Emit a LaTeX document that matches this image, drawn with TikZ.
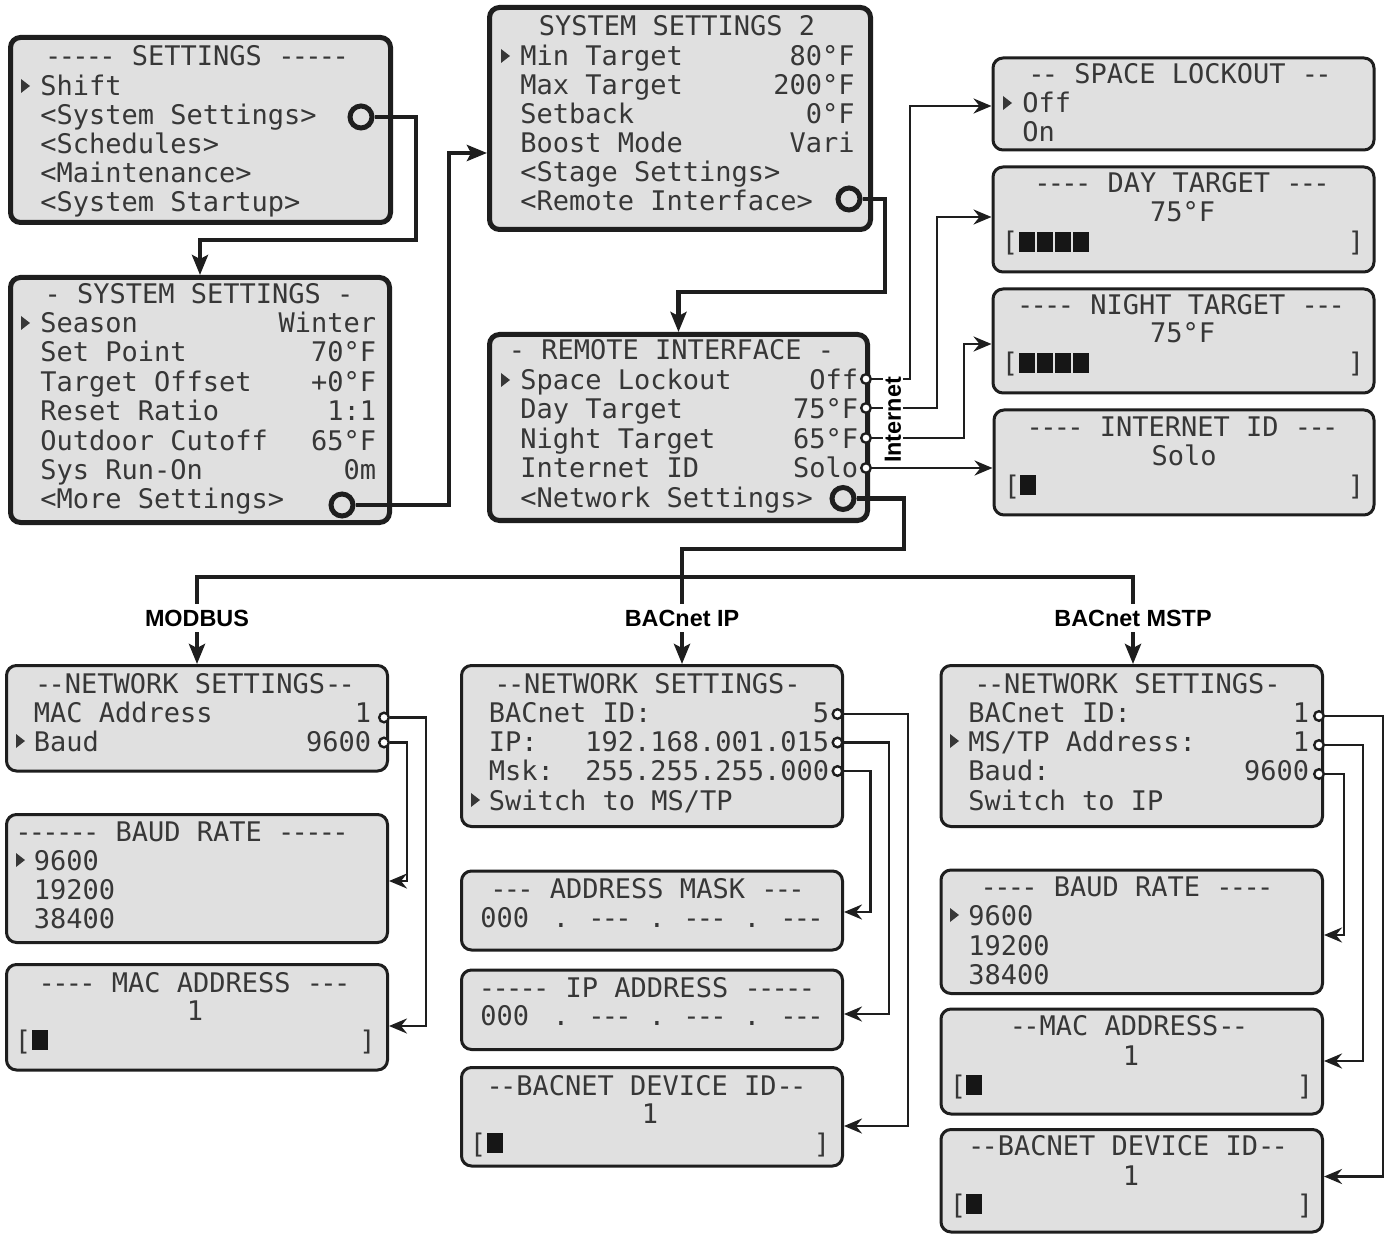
\documentclass[tikz,border=0pt]{standalone}
\usepackage{fontspec}
\setmonofont{DejaVu Sans Mono}
\newfontfamily\lblfam{Liberation Sans}
\usetikzlibrary{arrows.meta}
\definecolor{lcdbg}{RGB}{224,224,224}
\definecolor{lcdtxt}{RGB}{55,55,55}
\definecolor{bordc}{RGB}{30,30,30}
\definecolor{blockc}{RGB}{22,22,22}
\newcommand\lcdfont{\ttfamily\fontsize{13.5}{16}\selectfont}
\newcommand\lblfont{\lblfam\bfseries\fontsize{11.7}{14}\selectfont}
\newcommand\dsh[1]{{\addfontfeature{LetterSpace=-10}#1}}
\newcommand\lcdBox[6]{\node[#2, minimum width={(#5-#3)*0.5pt}, minimum height={(#6-#4)*0.5pt}] (#1) at ({(#3+#5)/2},{(#4+#6)/2}) {};}
\newcommand\lcdL[4]{\node[lcd, anchor=base west] (#1) at (#2,{#3+10}) {#4};}
\newcommand\lcdR[4]{\node[lcd, anchor=base east] (#1) at (#2,{#3+10}) {#4};}
\newcommand\lcdC[4]{\node[lcd, anchor=base] (#1) at (#2,{#3+10}) {#4};}
\newcommand\lcdCur[2]{\fill[lcdtxt] (#1,{#2-7}) -- (#1,{#2+7}) -- ({#1+9},#2) -- cycle;}
\newcommand\lcdBlk[2]{\fill[blockc] (#1,{#2-10}) rectangle ({#1+16},{#2+10});}
\tikzset{
 boxbase/.style={rectangle, rounded corners=5pt, fill=lcdbg, draw=bordc, inner sep=0pt},
 bigbox/.style={boxbase, line width=2.5pt},
 smallbox/.style={boxbase, line width=1.5pt},
 lcd/.style={font=\lcdfont, text=lcdtxt, inner sep=0pt},
 lbl/.style={font=\lblfont, inner sep=2.8pt},
 bigcirc/.style={circle, draw=bordc, line width=2.5pt, fill=lcdbg, minimum size=11pt, inner sep=0pt},
 smallcirc/.style={circle, draw=bordc, line width=1.2pt, fill=white, minimum size=4.8pt, inner sep=0pt},
 thickline/.style={draw=bordc, line width=2.3pt},
 thinline/.style={draw=bordc, line width=1.35pt},
 bigarrow/.style={thickline, -{Stealth[length=10pt,width=8pt,inset=2pt]}},
 thinarrow/.style={thinline, -{Stealth[length=9pt,width=7.5pt,inset=3pt]}},
}
\begin{document}
\begin{tikzpicture}[x=0.5pt,y=-0.5pt]
\fill[white] (0,0) rectangle (1387,1235);
\useasboundingbox (0,0) rectangle (1387,1235);

% ---------- boxes ----------
\lcdBox{A}{bigbox}{10.5}{37.5}{390.5}{222.5}
\lcdBox{B}{bigbox}{10.5}{277.5}{389.5}{522.5}
\lcdBox{C}{bigbox}{489.5}{7.5}{870.5}{229.5}
\lcdBox{D}{bigbox}{489.5}{334.5}{867.5}{520.5}
\lcdBox{E}{smallbox}{993}{58}{1374}{150}
\lcdBox{F}{smallbox}{993}{167}{1374}{272}
\lcdBox{G}{smallbox}{993}{289}{1374}{393}
\lcdBox{H}{smallbox}{994}{410}{1374}{515}
\lcdBox{I}{smallbox}{6.5}{665.5}{387.5}{771}
\lcdBox{J}{smallbox}{6.5}{814.5}{387.5}{942.5}
\lcdBox{K}{smallbox}{6.5}{964.5}{387.5}{1070}
\lcdBox{L}{smallbox}{461.5}{665.5}{842.5}{826.5}
\lcdBox{M}{smallbox}{461.5}{871}{842.5}{950}
\lcdBox{N}{smallbox}{461.5}{970}{842.5}{1049.5}
\lcdBox{O}{smallbox}{461.5}{1067.5}{842.5}{1166}
\lcdBox{P}{smallbox}{941}{665.5}{1322.5}{826.5}
\lcdBox{Q}{smallbox}{941}{870}{1322.5}{993.5}
\lcdBox{R}{smallbox}{941}{1009}{1322.5}{1114}
\lcdBox{S}{smallbox}{941}{1129.5}{1322.5}{1232}

% ---------- A: SETTINGS ----------
\lcdC{a0}{197}{56}{\dsh{-----} SETTINGS \dsh{-----}}
\lcdCur{21}{86}
\lcdL{a1}{40}{86}{Shift}
\lcdL{a2}{40}{115}{<System Settings>}
\lcdL{a3}{40}{144}{<Schedules>}
\lcdL{a4}{40}{173}{<Maintenance>}
\lcdL{a5}{40}{202}{<System Startup>}
\node[bigcirc] (cA) at (361,117) {};

% ---------- B: SYSTEM SETTINGS ----------
\lcdC{b0}{199}{294}{- SYSTEM SETTINGS -}
\lcdCur{21}{323}
\lcdL{b1}{40}{323}{Season}\lcdR{b1v}{376.5}{323}{Winter}
\lcdL{b2}{40}{352}{Set Point}\lcdR{b2v}{376.5}{352}{70°F}
\lcdL{b3}{40}{382}{Target Offset}\lcdR{b3v}{376.5}{382}{+0°F}
\lcdL{b4}{40}{411}{Reset Ratio}\lcdR{b4v}{376.5}{411}{1:1}
\lcdL{b5}{40}{441}{Outdoor Cutoff}\lcdR{b5v}{376.5}{441}{65°F}
\lcdL{b6}{40}{470}{Sys Run-On}\lcdR{b6v}{376.5}{470}{0m}
\lcdL{b7}{40}{499}{<More Settings>}
\node[bigcirc] (cB) at (342,505) {};

% ---------- C: SYSTEM SETTINGS 2 ----------
\lcdC{c0}{677}{26}{SYSTEM SETTINGS 2}
\lcdCur{501}{56}
\lcdL{c1}{520}{56}{Min Target}\lcdR{c1v}{855}{56}{80°F}
\lcdL{c2}{520}{85}{Max Target}\lcdR{c2v}{855}{85}{200°F}
\lcdL{c3}{520}{114}{Setback}\lcdR{c3v}{855}{114}{0°F}
\lcdL{c4}{520}{143}{Boost Mode}\lcdR{c4v}{855}{143}{Vari}
\lcdL{c5}{520}{172}{<Stage Settings>}
\lcdL{c6}{520}{201}{<Remote Interface>}
\node[bigcirc] (cC) at (849,199) {};

% ---------- D: REMOTE INTERFACE ----------
\lcdC{d0}{671.5}{350}{- REMOTE INTERFACE -}
\lcdCur{501}{380}
\lcdL{d1}{520}{380}{Space Lockout}\lcdR{d1v}{858.5}{380}{Off}
\lcdL{d2}{520}{409}{Day Target}\lcdR{d2v}{858.5}{409}{75°F}
\lcdL{d3}{520}{439}{Night Target}\lcdR{d3v}{858.5}{439}{65°F}
\lcdL{d4}{520}{468}{Internet ID}\lcdR{d4v}{858.5}{468}{Solo}
\lcdL{d5}{520}{498}{<Network Settings>}
\node[smallcirc] (cD1) at (866,379) {};
\node[smallcirc] (cD2) at (866,408) {};
\node[smallcirc] (cD3) at (866,438) {};
\node[smallcirc] (cD4) at (866,468) {};
\node[bigcirc] (cD) at (843,498.5) {};

% ---------- E-H ----------
\lcdC{e0}{1180}{74}{\dsh{--} SPACE LOCKOUT \dsh{--}}
\lcdCur{1003}{103}
\lcdL{e1}{1022}{103}{Off}
\lcdL{e2}{1022}{132}{On}

\lcdC{f0}{1182}{183}{\dsh{----} DAY TARGET \dsh{---}}
\lcdC{f1}{1182.5}{212}{75°F}
\lcdC{f2}{1010}{242}{[}
\lcdBlk{1019}{242}\lcdBlk{1037}{242}\lcdBlk{1055}{242}\lcdBlk{1073}{242}
\lcdC{f3}{1356}{242}{]}

\lcdC{g0}{1181}{305}{\dsh{----} NIGHT TARGET \dsh{---}}
\lcdC{g1}{1182.5}{333}{75°F}
\lcdC{g2}{1010}{363}{[}
\lcdBlk{1019}{363}\lcdBlk{1037}{363}\lcdBlk{1055}{363}\lcdBlk{1073}{363}
\lcdC{g3}{1356}{363}{]}

\lcdC{h0}{1182.5}{427}{\dsh{----} INTERNET ID \dsh{---}}
\lcdC{h1}{1184}{456}{Solo}
\lcdC{h2}{1012}{485}{[}
\lcdBlk{1020}{485}
\lcdC{h3}{1356}{485}{]}

% ---------- I, J, K (MODBUS) ----------
\lcdC{i0}{195}{683}{\dsh{--}NETWORK SETTINGS\dsh{--}}
\lcdL{i1}{33.5}{712}{MAC Address}\lcdR{i1v}{371.5}{712}{1}
\lcdCur{16}{741}
\lcdL{i2}{33.5}{741}{Baud}\lcdR{i2v}{371.5}{741}{9600}
\node[smallcirc] (cI1) at (384,717.5) {};
\node[smallcirc] (cI2) at (384,742.5) {};

\lcdC{j0}{182}{831}{\dsh{------} BAUD RATE \dsh{-----}}
\lcdCur{16}{860}
\lcdL{j1}{33.5}{860}{9600}
\lcdL{j2}{33.5}{889}{19200}
\lcdL{j3}{33.5}{918}{38400}

\lcdC{k0}{194.5}{982}{\dsh{----} MAC ADDRESS \dsh{---}}
\lcdC{k1}{195}{1010}{1}
\lcdC{k2}{23}{1040}{[}
\lcdBlk{32}{1040}
\lcdC{k3}{367.5}{1040}{]}

% ---------- L, M, N, O (BACnet IP) ----------
\lcdC{l0}{647.5}{683}{\dsh{--}NETWORK SETTINGS\dsh{-}}
\lcdL{l1}{488.5}{712}{BACnet ID:}\lcdR{l1v}{829.5}{712}{5}
\lcdL{l2}{488.5}{741}{IP:}\lcdR{l2v}{829.5}{741}{192.168.001.015}
\lcdL{l3}{488.5}{770}{Msk:}\lcdR{l3v}{829.5}{770}{255.255.255.000}
\lcdCur{471}{800}
\lcdL{l4}{488.5}{800}{Switch to MS/TP}
\node[smallcirc] (cL1) at (837.5,714) {};
\node[smallcirc] (cL2) at (837.5,742.5) {};
\node[smallcirc] (cL3) at (837.5,771) {};

\lcdC{m0}{647.5}{888}{\dsh{---} ADDRESS MASK \dsh{---}}
\lcdL{m1}{480}{917}{000}
\lcdC{m2}{561}{917}{.}
\lcdC{m3}{610}{917}{\dsh{---}}
\lcdC{m4}{657}{917}{.}
\lcdC{m5}{705}{917}{\dsh{---}}
\lcdC{m6}{752}{917}{.}
\lcdC{m7}{802}{917}{\dsh{---}}

\lcdC{n0}{647}{987}{\dsh{-----} IP ADDRESS \dsh{-----}}
\lcdL{n1}{480}{1015}{000}
\lcdC{n2}{561}{1015}{.}
\lcdC{n3}{610}{1015}{\dsh{---}}
\lcdC{n4}{657}{1015}{.}
\lcdC{n5}{705}{1015}{\dsh{---}}
\lcdC{n6}{752}{1015}{.}
\lcdC{n7}{802}{1015}{\dsh{---}}

\lcdC{o0}{646.5}{1085}{\dsh{--}BACNET DEVICE ID\dsh{--}}
\lcdC{o1}{650}{1113}{1}
\lcdC{o2}{478}{1143}{[}
\lcdBlk{487}{1143}
\lcdC{o3}{822}{1143}{]}

% ---------- P, Q, R, S (BACnet MSTP) ----------
\lcdC{p0}{1127.5}{683}{\dsh{--}NETWORK SETTINGS\dsh{-}}
\lcdL{p1}{968}{712}{BACnet ID:}\lcdR{p1v}{1309.5}{712}{1}
\lcdCur{950}{741}
\lcdL{p2}{968}{741}{MS/TP Address:}\lcdR{p2v}{1309.5}{741}{1}
\lcdL{p3}{968}{770}{Baud:}\lcdR{p3v}{1309.5}{770}{9600}
\lcdL{p4}{968}{800}{Switch to IP}
\node[smallcirc] (cP1) at (1319,716) {};
\node[smallcirc] (cP2) at (1319,745) {};
\node[smallcirc] (cP3) at (1319,774) {};

\lcdC{q0}{1127}{886}{\dsh{----} BAUD RATE \dsh{----}}
\lcdCur{950}{915}
\lcdL{q1}{968}{915}{9600}
\lcdL{q2}{968}{945}{19200}
\lcdL{q3}{968}{974}{38400}

\lcdC{r0}{1129}{1025}{\dsh{--}MAC ADDRESS\dsh{--}}
\lcdC{r1}{1131}{1055}{1}
\lcdC{r2}{958}{1085}{[}
\lcdBlk{966}{1085}
\lcdC{r3}{1305}{1085}{]}

\lcdC{s0}{1128}{1145}{\dsh{--}BACNET DEVICE ID\dsh{--}}
\lcdC{s1}{1131}{1175}{1}
\lcdC{s2}{958}{1204}{[}
\lcdBlk{966}{1204}
\lcdC{s3}{1305}{1204}{]}

% ---------- labels ----------
\node[lbl] (lM) at (197,618) {MODBUS};
\node[lbl] (lI) at (682,618) {BACnet IP};
\node[lbl] (lS) at (1133,618) {BACnet MSTP};

% ---------- thick connectors ----------
\draw[bigarrow] (cA.east) -- (416,117) -- (416,240) -| (B.north);
\draw[bigarrow] (cB.east) -- (449,505) -- (449,153) -- (C.west |- 0,153);
\draw[bigarrow] (cC.east) -- (885,199) -- (885,292) -| (D.north);
\draw[thickline] (cD.east) -- (904,498.5) -- (904,549) -| (lI.north);
\draw[thickline] (lM.north) -- (lM.north |- 0,577) -- (lS.north |- 0,577) -- (lS.north);
\draw[bigarrow] (lM.south) -- (I.north);
\draw[bigarrow] (lI.south) -- (lI.south |- L.north);
\draw[bigarrow] (lS.south) -- (lS.south |- P.north);

% ---------- thin connectors ----------
\draw[thinarrow] (cD1.east) -- (910,379) -- (910,106) -- (E.west |- 0,106);
\draw[thinarrow] (cD2.east) -- (937,408) -- (937,217) -- (F.west |- 0,217);
\draw[thinarrow] (cD3.east) -- (964,438) -- (964,344) -- (G.west |- 0,344);
\draw[thinarrow] (cD4.east) -- (H.west |- 0,468);
\node[lbl, rotate=90, fill=white, inner sep=1pt] (lNet) at (893,420) {Internet};

\draw[thinarrow] (cI1.east) -- (426,717.5) -- (426,1026) -- (K.east |- 0,1026);
\draw[thinarrow] (cI2.east) -- (407,742.5) -- (407,881) -- (J.east |- 0,881);
\draw[thinarrow] (cL1.east) -- (908,714) -- (908,1126) -- (O.east |- 0,1126);
\draw[thinarrow] (cL2.east) -- (889,742.5) -- (889,1014) -- (N.east |- 0,1014);
\draw[thinarrow] (cL3.east) -- (870.5,771) -- (870.5,912) -- (M.east |- 0,912);
\draw[thinarrow] (cP1.east) -- (1383,716) -- (1383,1176.5) -- (S.east |- 0,1176.5);
\draw[thinarrow] (cP2.east) -- (1363,745) -- (1363,1061) -- (R.east |- 0,1061);
\draw[thinarrow] (cP3.east) -- (1344,774) -- (1344,935) -- (Q.east |- 0,935);
\end{tikzpicture}
\end{document}
